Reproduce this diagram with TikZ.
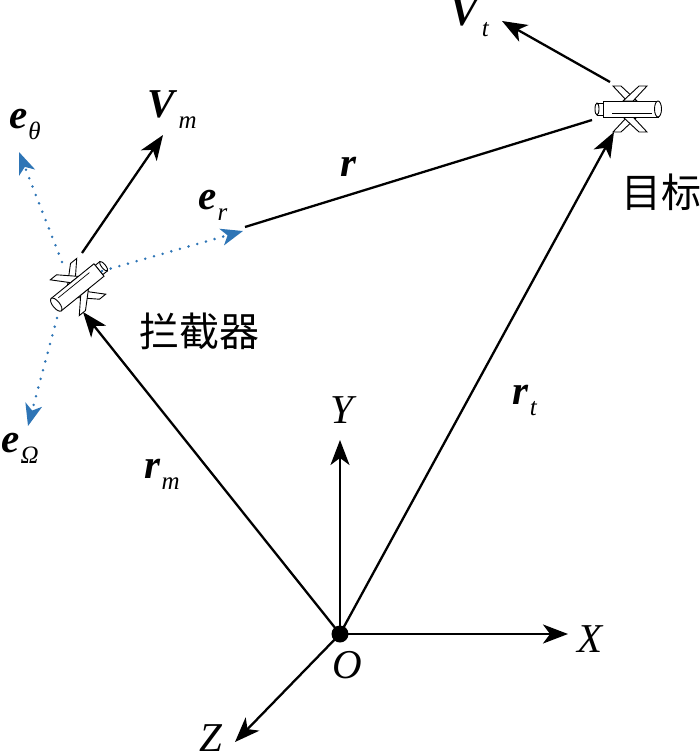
\documentclass[tikz,border=0pt]{standalone}
\usepackage{fontspec}
\setmainfont{Liberation Serif}
\newfontfamily\cjk{Noto Sans CJK SC}
\usetikzlibrary{arrows.meta}
\definecolor{eblue}{RGB}{46,117,182}
\newcommand\vlab[2]{\textbf{\textit{#1}}\kern1pt\raisebox{-11pt}{\fontsize{25}{25}\selectfont\textit{#2}}}
\tikzset{
  vec/.style={line width=2.3pt,-{Stealth[length=25pt,width=19pt,inset=7pt]}},
  unitvec/.style={draw=eblue,line width=2.8pt,line cap=round,dash pattern=on 0pt off 9pt,
    -{Stealth[length=22pt,width=17pt,inset=6pt,fill=eblue,color=eblue]}},
  lbl/.style={inner sep=0pt,font=\fontsize{41}{41}\selectfont},
  cjklbl/.style={inner sep=0pt,font=\fontsize{40}{40}\selectfont\cjk},
  part/.style={draw,fill=white,line width=0.9pt},
  missile/.pic={
    \foreach \s in {1,-1}{
      \path[part] (-3,8*\s) -- (-17,23*\s) -- (-9,23*\s) -- (7,8*\s) -- cycle;
      \path[part] (3,8*\s) -- (17,23*\s) -- (9,23*\s) -- (-7,8*\s) -- cycle;
    }
    \path[part] (-33,-6) rectangle (-27,6);
    \path[part] (-33,0) ellipse [x radius=2,y radius=6];
    \path[part] (-27,-8) rectangle (28,8);
    \path[part] (28,0) ellipse [x radius=3.5,y radius=8];
    \draw[line width=0.7pt] (-18,4) -- (22,4);
  }
}
\begin{document}
\begin{tikzpicture}[x=1pt,y=-1pt]
\useasboundingbox (0,0) rectangle (700,753);
% axes
\node[circle,fill,inner sep=0pt,minimum size=17pt] (O) at (340,634) {};
\coordinate (X) at (568,634);
\coordinate (Y) at (340,440);
\coordinate (Z) at (235,742);
\draw[vec] (O.center) -- (X);
\draw[vec] (O.center) -- (Y);
\draw[vec] (O.center) -- (Z);
\node[lbl] (xl) at (591,639) {\textit{X}};
\node[lbl] (yl) at (344,410) {\textit{Y}};
\node[lbl] (zl) at (211,738) {\textit{Z}};
\node[lbl] (ol) at (347,665) {\textit{O}};
% interceptor and target
\pic[rotate=219] at (78,287) {missile};
\pic at (630,109) {missile};
\coordinate (Mb) at (83,312);
\coordinate (Mt) at (82,253);
\coordinate (Mr) at (102,271);
\coordinate (Ml) at (62,262);
\coordinate (Md) at (57,318);
\coordinate (Tb) at (614,132);
\coordinate (Tt) at (610,82);
\coordinate (Tl) at (592,120);
\coordinate (Vm) at (163,135);
\coordinate (Vt) at (502,21);
\coordinate (er) at (243,231);
\coordinate (eth) at (19,152);
\coordinate (eom) at (28,426);
\coordinate (rs) at (245,227);
% position vectors
\draw[vec] (O.center) -- (Mb);
\draw[vec] (O.center) -- (Tb);
\draw[line width=2.3pt] (rs) -- (Tl);
\draw[vec] (Mt) -- (Vm);
\draw[vec] (Tt) -- (Vt);
% unit vectors
\draw[unitvec] (Mr) -- (er);
\draw[unitvec] (Ml) -- (eth);
\draw[unitvec] (Md) -- (eom);
% labels
\node[lbl] (rml) at (162,474) {\vlab{r}{m}};
\node[lbl] (rtl) at (525,400) {\vlab{r}{t}};
\node[lbl] (rl) at (349,167) {\textbf{\textit{r}}};
\node[lbl] (vml) at (172,110) {\vlab{V}{m}};
\node[lbl] (vtl) at (470,18) {\vlab{V}{t}};
\node[lbl] (erl) at (213,205) {\vlab{e}{r}};
\node[lbl] (ethl) at (25,124) {\vlab{e}{θ}};
\node[lbl] (eoml) at (20,448) {\vlab{e}{Ω}};
\node[cjklbl] (ml) at (199,331) {拦截器};
\node[cjklbl] (tl) at (661,192) {目标};
\end{tikzpicture}
\end{document}
